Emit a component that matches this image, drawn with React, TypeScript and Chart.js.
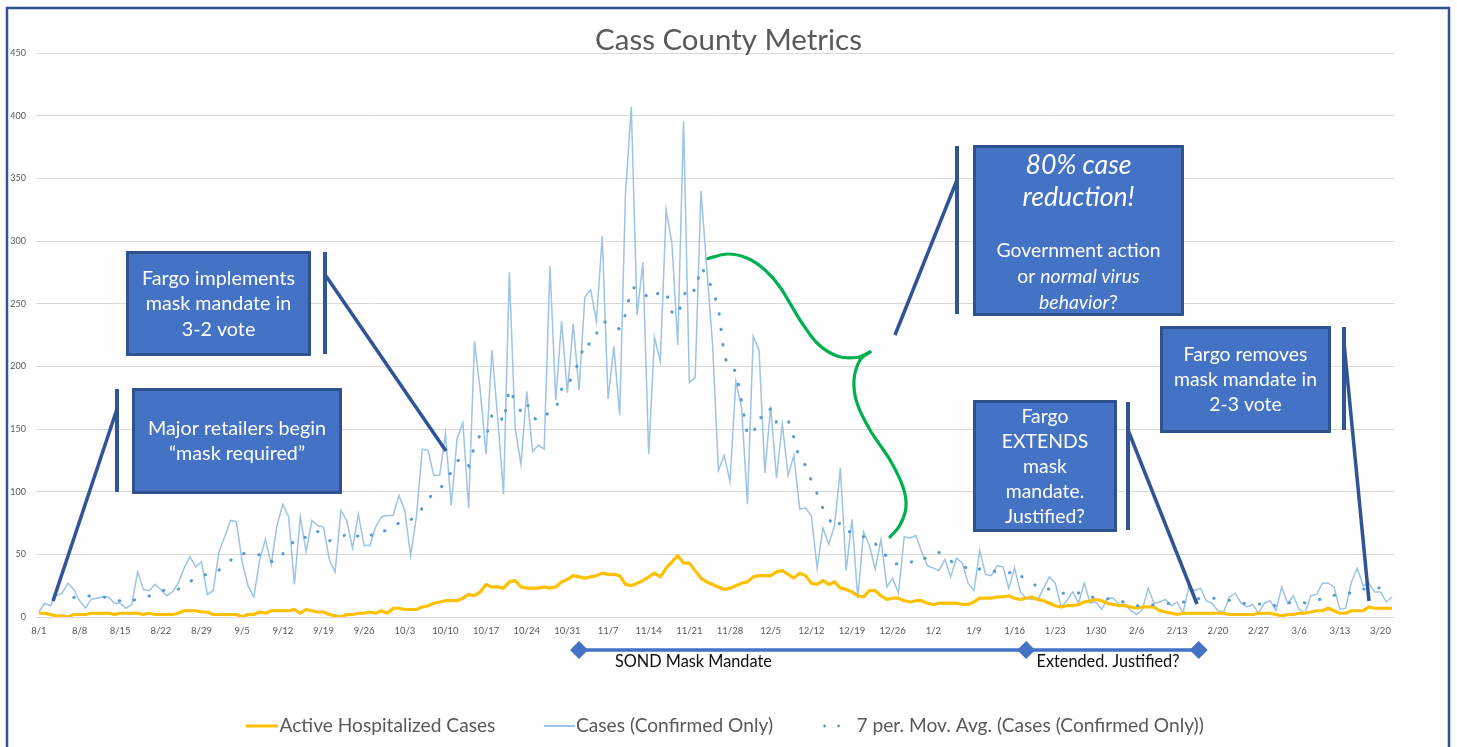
import React, { useEffect, useRef } from "react";
import { Chart, registerables } from "chart.js";

Chart.register(...registerables);

const FAMILY = "Lato, 'Open Sans', sans-serif";

// ---------- data ----------
const startDate = { year: 2020, month: 8, day: 1 };

const caseValues: number[] = [
  4, 11, 9, 17, 19, 27, 22, 13, 7, 14,
  15, 16, 16, 11, 11, 7, 10, 36, 22, 21,
  26, 22, 17, 20, 27, 39, 48, 40, 44, 18,
  21, 52, 64, 77, 76, 44, 25, 16, 45, 62,
  42, 73, 90, 80, 26, 80, 52, 77, 73, 72,
  46, 36, 85, 77, 55, 82, 57, 57, 72, 80,
  81, 81, 97, 85, 49, 80, 134, 133, 113, 113,
  146, 89, 142, 155, 87, 220, 180, 130, 213, 159,
  98, 275, 151, 122, 180, 132, 137, 134, 280, 173,
  236, 179, 234, 181, 255, 261, 236, 304, 174, 216,
  161, 338, 407, 241, 283, 130, 223, 204, 325, 298,
  217, 396, 187, 191, 340, 278, 217, 117, 129, 108,
  188, 167, 90, 224, 213, 115, 168, 111, 154, 113,
  129, 86, 87, 81, 39, 71, 58, 73, 119, 37,
  78, 15, 68, 57, 38, 62, 24, 31, 19, 64,
  63, 65, 52, 41, 39, 37, 46, 32, 47, 43,
  27, 21, 53, 34, 33, 41, 40, 23, 39, 20,
  15, 14, 14, 23, 32, 27, 8, 13, 20, 11,
  27, 11, 12, 6, 15, 15, 10, 10, 5, 2,
  6, 23, 11, 12, 14, 9, 12, 3, 24, 21,
  23, 13, 11, 5, 4, 16, 19, 11, 8, 10,
  3, 11, 13, 5, 24, 11, 17, 6, 3, 17,
  18, 27, 27, 24, 6, 7, 28, 39, 25, 27,
  20, 20, 12, 16,
];

const hospitalizedValues: number[] = [
  3, 3, 2, 1, 1, 0, 2, 2, 2, 3,
  3, 3, 3, 2, 3, 3, 3, 3, 2, 3,
  2, 2, 2, 2, 3, 5, 5, 5, 4, 4,
  2, 2, 2, 2, 2, 0, 2, 2, 4, 3,
  5, 5, 5, 5, 6, 3, 6, 5, 4, 4,
  2, 1, 0, 2, 2, 3, 3, 4, 3, 5,
  3, 7, 7, 6, 6, 6, 8, 9, 11, 12,
  13, 13, 13, 15, 18, 17, 20, 26, 24, 24,
  23, 28, 29, 24, 23, 23, 23, 24, 23, 24,
  28, 30, 33, 32, 31, 32, 33, 35, 34, 34,
  33, 26, 25, 27, 29, 32, 35, 32, 39, 44,
  49, 43, 43, 37, 31, 28, 26, 24, 22, 23,
  25, 27, 28, 32, 33, 33, 33, 36, 37, 34,
  31, 35, 33, 27, 26, 29, 26, 28, 23, 22,
  20, 17, 16, 21, 21, 17, 14, 15, 15, 13,
  12, 13, 13, 11, 10, 11, 11, 11, 11, 10,
  10, 12, 15, 15, 15, 16, 16, 17, 15, 14,
  15, 16, 14, 13, 11, 9, 8, 9, 9, 10,
  12, 13, 14, 13, 11, 10, 9, 9, 8, 7,
  8, 8, 8, 5, 4, 3, 2, 3, 3, 3,
  3, 3, 3, 3, 3, 2, 2, 2, 2, 2,
  3, 3, 3, 2, 1, 2, 2, 3, 3, 4,
  5, 5, 7, 5, 3, 3, 5, 5, 5, 8,
  7, 7, 7, 7,
];

const seriesNames = [
  "Active Hospitalized Cases",
  "Cases (Confirmed Only)",
  "7 per. Mov. Avg. (Cases (Confirmed Only))",
];
const movingAvgPeriod = 7;
const tickEvery = 7; // a label every 7 days
const yMax = 450;
const yStep = 50;
const chartTitle = "Cass County Metrics";

// mask mandate timeline (category index positions) and labels
const mandateMarks = [93, 170, 199.7];
const mandateLabels = ["SOND Mask Mandate", "Extended. Justified?"];

// ---------- derived ----------
const dayLabels: string[] = (() => {
  const out: string[] = [];
  const d = new Date(startDate.year, startDate.month - 1, startDate.day);
  for (let i = 0; i < caseValues.length; i++) {
    out.push(`${d.getMonth() + 1}/${d.getDate()}`);
    d.setDate(d.getDate() + 1);
  }
  return out;
})();

const movingAvg: (number | null)[] = caseValues.map((_, i) => {
  if (i < movingAvgPeriod - 1) return null;
  let s = 0;
  for (let k = i - movingAvgPeriod + 1; k <= i; k++) s += caseValues[k];
  return s / movingAvgPeriod;
});

// ---------- annotation layout (pixels) ----------
type Seg = { t: string; i?: boolean };
type TLine = { y: number; segs: Seg[]; big?: boolean };
type Callout = {
  box: [number, number, number, number];
  bar: [number, number, number];
  pointer: [number, number, number, number];
  fit: [string, number, boolean?];
  bigFit?: [string, number];
  lines: TLine[];
};

const callouts: Callout[] = [
  {
    box: [132, 388, 342, 494],
    bar: [117, 389, 492],
    pointer: [117, 409, 53, 601],
    fit: ["Major retailers begin", 178],
    lines: [
      { y: 429, segs: [{ t: "Major retailers begin" }] },
      { y: 453.5, segs: [{ t: "\u201Cmask required\u201D" }] },
    ],
  },
  {
    box: [126, 251, 311, 356],
    bar: [325, 252, 354],
    pointer: [326, 276, 446, 451],
    fit: ["Major retailers begin", 178],
    lines: [
      { y: 278.5, segs: [{ t: "Fargo implements" }] },
      { y: 304, segs: [{ t: "mask mandate in" }] },
      { y: 329.5, segs: [{ t: "3-2 vote" }] },
    ],
  },
  {
    box: [973, 145, 1184, 316],
    bar: [957, 146, 314],
    pointer: [957, 180, 895, 335],
    fit: ["Government action", 164],
    bigFit: ["reduction!", 112],
    lines: [
      { y: 165, segs: [{ t: "80% case", i: true }], big: true },
      { y: 197, segs: [{ t: "reduction!", i: true }], big: true },
      { y: 251, segs: [{ t: "Government action" }] },
      { y: 277, segs: [{ t: "or " }, { t: "normal virus", i: true }] },
      { y: 302.5, segs: [{ t: "behavior", i: true }, { t: "?" }] },
    ],
  },
  {
    box: [973, 400, 1117, 532],
    bar: [1128, 402, 530],
    pointer: [1128, 430, 1197, 604],
    fit: ["Government action", 164],
    lines: [
      { y: 416.5, segs: [{ t: "Fargo" }] },
      { y: 441.5, segs: [{ t: "EXTENDS" }] },
      { y: 467, segs: [{ t: "mask" }] },
      { y: 492, segs: [{ t: "mandate." }] },
      { y: 517, segs: [{ t: "Justified?" }] },
    ],
  },
  {
    box: [1160, 326, 1331, 433],
    bar: [1344, 327, 430],
    pointer: [1344, 343, 1369, 601],
    fit: ["Government action", 164],
    lines: [
      { y: 355, segs: [{ t: "Fargo removes" }] },
      { y: 380, segs: [{ t: "mask mandate in" }] },
      { y: 405, segs: [{ t: "2-3 vote" }] },
    ],
  },
];

const braceUpper: [number, number][] = [
  [708, 258.5], [728, 254], [748, 258.5], [765, 270], [780, 287], [800, 320],
  [817, 343], [837, 356], [857, 357.5], [870, 352],
];
const braceLower: [number, number][] = [
  [870, 352], [860, 360], [854, 380], [857, 403], [870, 430], [890, 460],
  [903, 487], [906, 507], [900, 525], [890, 537],
];

function fitSize(ctx: CanvasRenderingContext2D, text: string, target: number, italic = false) {
  ctx.font = `${italic ? "italic " : ""}100px ${FAMILY}`;
  const w = ctx.measureText(text).width;
  return (100 * target) / w;
}

function smooth(ctx: CanvasRenderingContext2D, pts: [number, number][]) {
  ctx.moveTo(pts[0][0], pts[0][1]);
  for (let i = 0; i < pts.length - 1; i++) {
    const p0 = pts[i - 1] || pts[i];
    const p1 = pts[i];
    const p2 = pts[i + 1];
    const p3 = pts[i + 2] || p2;
    ctx.bezierCurveTo(
      p1[0] + (p2[0] - p0[0]) / 6, p1[1] + (p2[1] - p0[1]) / 6,
      p2[0] - (p3[0] - p1[0]) / 6, p2[1] - (p3[1] - p1[1]) / 6,
      p2[0], p2[1]
    );
  }
}

const overlayPlugin = {
  id: "overlay",
  afterDraw(chart: any) {
    const ctx: CanvasRenderingContext2D = chart.ctx;
    const xs = chart.scales.x;
    ctx.save();

    // outer frame
    ctx.strokeStyle = "#2F5597";
    ctx.lineWidth = 2.5;
    ctx.strokeRect(7, 8, 1442, 800);

    // title
    const ts = fitSize(ctx, chartTitle, 267);
    ctx.font = `${ts}px ${FAMILY}`;
    ctx.fillStyle = "#595959";
    ctx.textAlign = "center";
    ctx.textBaseline = "middle";
    ctx.fillText(chartTitle, 728.5, 40);

    // legend
    const ls = fitSize(ctx, seriesNames[0], 216);
    ctx.font = `${ls}px ${FAMILY}`;
    ctx.textAlign = "left";
    ctx.fillStyle = "#595959";
    const ly = 726;
    ctx.lineCap = "butt";
    ctx.strokeStyle = "#FFC000";
    ctx.lineWidth = 3;
    ctx.beginPath(); ctx.moveTo(246, ly); ctx.lineTo(278, ly); ctx.stroke();
    ctx.fillText(seriesNames[0], 279.5, ly);
    ctx.strokeStyle = "#9DC3E6";
    ctx.lineWidth = 2;
    ctx.beginPath(); ctx.moveTo(544, ly); ctx.lineTo(575, ly); ctx.stroke();
    ctx.fillText(seriesNames[1], 576, ly);
    ctx.fillStyle = "#5B9BD5";
    [824.6, 838.6].forEach((x) => { ctx.beginPath(); ctx.arc(x, ly, 1.4, 0, Math.PI * 2); ctx.fill(); });
    ctx.fillStyle = "#595959";
    ctx.fillText(seriesNames[2], 856.5, ly);

    // mask mandate timeline
    const mx = mandateMarks.map((m) => xs.getPixelForValue(m));
    const my = 650;
    ctx.strokeStyle = "#4472C4";
    ctx.lineWidth = 3.5;
    ctx.beginPath(); ctx.moveTo(mx[0], my); ctx.lineTo(mx[2], my); ctx.stroke();
    ctx.fillStyle = "#4472C4";
    mx.forEach((x) => {
      ctx.beginPath();
      ctx.moveTo(x, my - 9); ctx.lineTo(x + 9, my); ctx.lineTo(x, my + 9); ctx.lineTo(x - 9, my);
      ctx.closePath(); ctx.fill();
    });
    const ms = fitSize(ctx, mandateLabels[0], 157);
    ctx.font = `${ms}px ${FAMILY}`;
    ctx.fillStyle = "#0D0D0D";
    ctx.textAlign = "left";
    ctx.fillText(mandateLabels[0], 615, 662);
    ctx.fillText(mandateLabels[1], 1036.5, 662);

    // green brace
    ctx.strokeStyle = "#00B050";
    ctx.lineWidth = 3.2;
    ctx.lineCap = "round";
    ctx.lineJoin = "round";
    ctx.beginPath(); smooth(ctx, braceUpper); ctx.stroke();
    ctx.beginPath(); smooth(ctx, braceLower); ctx.stroke();

    // callouts
    callouts.forEach((c) => {
      const [x0, y0, x1, y1] = c.box;
      ctx.fillStyle = "#4472C4";
      ctx.fillRect(x0, y0, x1 - x0, y1 - y0);
      ctx.strokeStyle = "#2F528F";
      ctx.lineWidth = 3;
      ctx.strokeRect(x0 + 1.5, y0 + 1.5, x1 - x0 - 3, y1 - y0 - 3);

      ctx.strokeStyle = "#2F5597";
      ctx.lineCap = "butt";
      ctx.lineWidth = 4;
      ctx.beginPath(); ctx.moveTo(c.bar[0], c.bar[1]); ctx.lineTo(c.bar[0], c.bar[2]); ctx.stroke();
      ctx.lineWidth = 3.5;
      ctx.beginPath(); ctx.moveTo(c.pointer[0], c.pointer[1]); ctx.lineTo(c.pointer[2], c.pointer[3]); ctx.stroke();

      const size = fitSize(ctx, c.fit[0], c.fit[1], !!c.fit[2]);
      const bigSize = c.bigFit ? fitSize(ctx, c.bigFit[0], c.bigFit[1], true) : size;
      const cx = (x0 + x1) / 2;
      ctx.fillStyle = "#FFFFFF";
      ctx.textBaseline = "middle";
      ctx.textAlign = "left";
      c.lines.forEach((ln) => {
        const sz = ln.big ? bigSize : size;
        const widths = ln.segs.map((s) => {
          ctx.font = `${s.i ? "italic " : ""}${sz}px ${FAMILY}`;
          return ctx.measureText(s.t).width;
        });
        const total = widths.reduce((a, b) => a + b, 0);
        let x = cx - total / 2;
        ln.segs.forEach((s, k) => {
          ctx.font = `${s.i ? "italic " : ""}${sz}px ${FAMILY}`;
          ctx.fillText(s.t, x, ln.y);
          x += widths[k];
        });
      });
    });

    ctx.restore();
  },
};

export default function App() {
  const ref = useRef<HTMLCanvasElement | null>(null);

  useEffect(() => {
    if (!ref.current) return;
    const chart = new Chart(ref.current, {
      type: "line",
      data: {
        labels: dayLabels,
        datasets: [
          {
            label: seriesNames[2],
            data: movingAvg,
            borderColor: "#5B9BD5",
            borderWidth: 3,
            borderDash: [0.5, 15],
            borderCapStyle: "round",
            pointRadius: 0,
            tension: 0,
            fill: false,
          },
          {
            label: seriesNames[0],
            data: hospitalizedValues,
            borderColor: "#FFC000",
            borderWidth: 3.2,
            borderJoinStyle: "round",
            pointRadius: 0,
            tension: 0,
            fill: false,
          },
          {
            label: seriesNames[1],
            data: caseValues,
            borderColor: "#9DC3E6",
            borderWidth: 1.5,
            pointRadius: 0,
            tension: 0,
            fill: false,
          },
        ],
      } as any,
      options: {
        animation: false,
        responsive: false,
        devicePixelRatio: 1,
        events: [],
        layout: { padding: { top: 53, right: 62, left: 0, bottom: 0 } },
        plugins: {
          legend: { display: false },
          title: { display: false },
          tooltip: { enabled: false },
        },
        scales: {
          x: {
            type: "category",
            offset: true,
            grid: { display: false, drawTicks: false },
            border: { display: false },
            ticks: {
              autoSkip: false,
              maxRotation: 0,
              minRotation: 0,
              color: "#595959",
              font: { family: FAMILY, size: 9.5 },
              padding: 8,
              callback: (_v: any, i: number) => (i % tickEvery === 0 ? dayLabels[i] : null),
            },
            afterFit: (s: any) => {
              s.height = 130;
            },
          },
          y: {
            min: 0,
            max: yMax,
            ticks: {
              stepSize: yStep,
              color: "#595959",
              font: { family: FAMILY, size: 9 },
              padding: 10,
            },
            grid: { color: "#D9D9D9", lineWidth: 1, drawTicks: false },
            border: { display: false },
            afterFit: (s: any) => {
              s.width = 36;
            },
          },
        },
      } as any,
      plugins: [overlayPlugin],
    });
    return () => chart.destroy();
  }, []);

  return (
    <div style={{ position: "fixed", left: 0, top: 0, width: 1457, height: 747, background: "#fff", overflow: "hidden" }}>
      <canvas ref={ref} width={1457} height={747} style={{ display: "block", width: 1457, height: 747 }} />
    </div>
  );
}
